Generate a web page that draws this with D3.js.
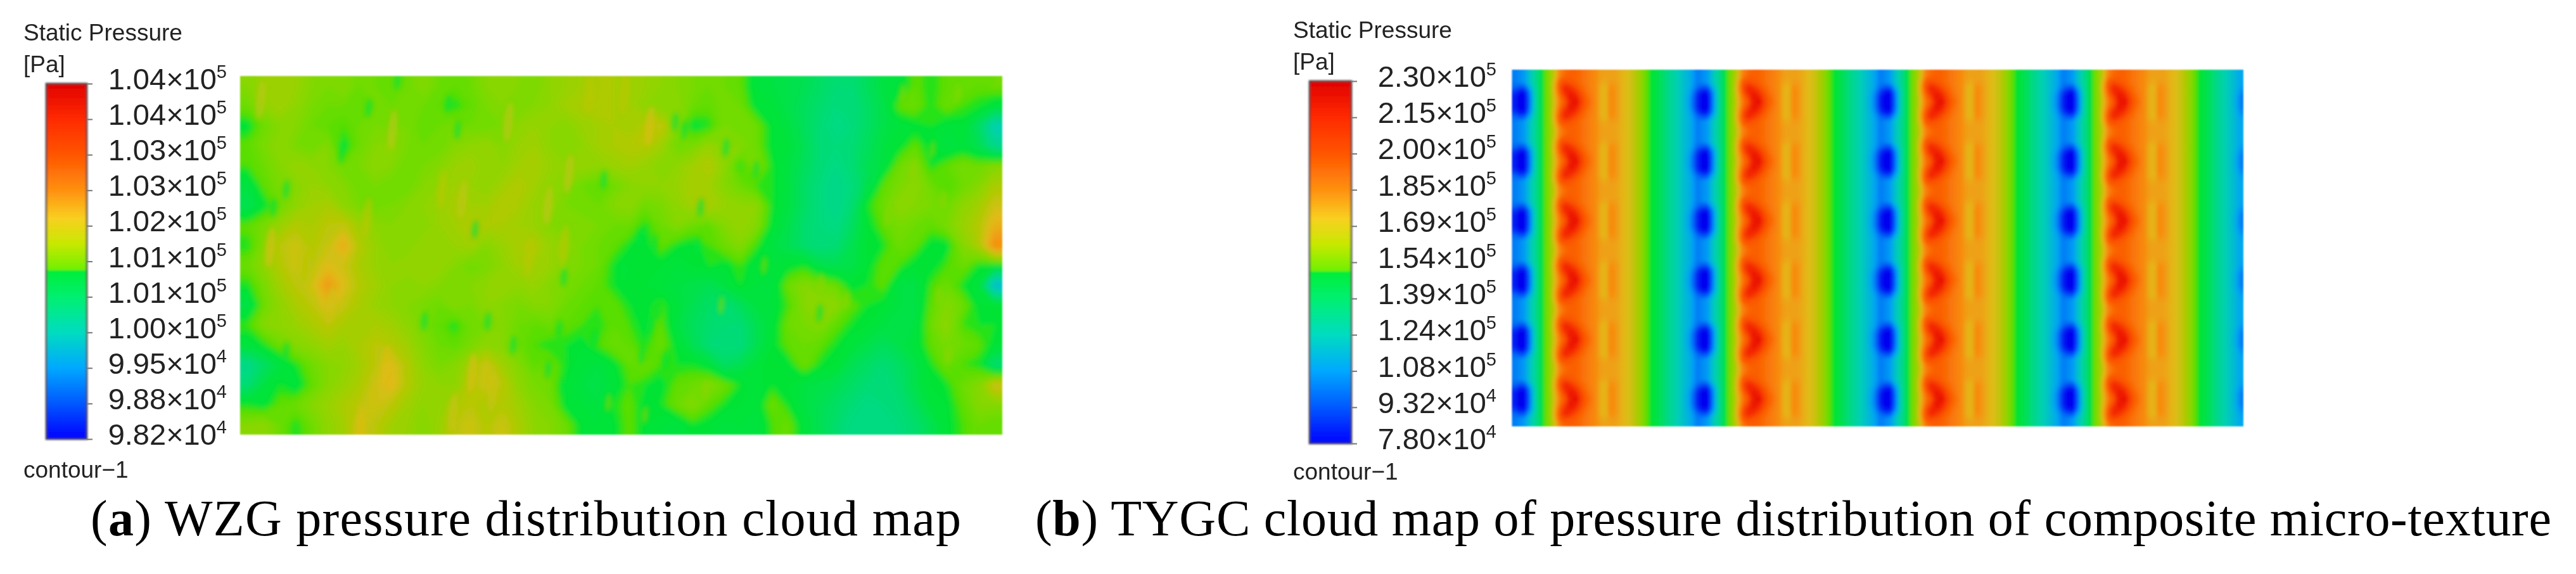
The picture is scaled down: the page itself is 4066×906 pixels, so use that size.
<!DOCTYPE html>
<html><head><meta charset="utf-8">
<script src="https://cdn.jsdelivr.net/npm/d3@7/dist/d3.min.js"></script>
<style>html,body{margin:0;padding:0;background:#fff;overflow:hidden}</style>
</head><body><svg id="c" width="4066" height="906"></svg>
<script>
// legend tick labels
const mantissaA=["1.04","1.04","1.03","1.03","1.02","1.01","1.01","1.00","9.95","9.88","9.82"];
const exponentA=["5","5","5","5","5","5","5","5","4","4","4"];
const mantissaB=["2.30","2.15","2.00","1.85","1.69","1.54","1.39","1.24","1.08","9.32","7.80"];
const exponentB=["5","5","5","5","5","5","5","5","5","4","4"];
const legendTitle="Static Pressure", legendUnit="[Pa]", legendFoot="contour\u22121";
const captionA=["(a)"," WZG pressure distribution cloud map"];
const captionB=["(b)"," TYGC cloud map of pressure distribution of composite micro-texture"];
// colour legend: level (percent of legend range) -> colour
const levelStops=[0,10,20,30,38,44,47.4,47.6,52,56,62,70,80,90,100];
const levelColors=["#0000f0","#0050f8","#00a4f4","#00d0b4","#00dc74","#00e240","#00e430","#4ee000","#84d800","#a8cc00","#e0bc18","#f88c10","#fa5600","#f42800","#e00000"];
const legendStops=[0,10,20,30,40,47.4,47.6,55,62,70,80,90,100];
const legendColors=["#0000ff","#0058ff","#00a8ff","#00dcc0","#00f070","#00ee38","#70f000","#c8e800","#f8d020","#ff9010","#ff5500","#ff2a00","#e00000"];
// panel (a): pressure level, top row first
const fieldA=[
[52,54,55,54,52,51,52,50,50,49,50,52,50,49,50,52,53,52,51,53,54,55,56,56,55,54,53,52,51,50,50,49,45,44,43,42,40,38,38,41,44,45,49,47,49,50,49,50],
[50,53,55,53,51,50,50,49,50,50,51,50,49,47,49,51,52,51,52,53,55,56,57,56,55,53,52,53,50,49,51,50,46,45,43,41,39,37,37,40,43,49,50,47,50,48,47,45],
[46,50,52,52,50,49,48,50,51,50,51,49,50,51,50,50,51,53,54,53,52,54,55,56,55,57,59,52,46,47,51,50,50,46,44,41,38,36,37,40,43,45,46,47,45,46,40,30],
[49,51,53,51,50,52,46,50,52,53,51,50,50,52,53,54,52,54,55,53,52,53,55,56,57,57,55,50,51,54,52,52,50,46,45,42,38,37,38,41,44,46,49,46,44,45,42,35],
[48,50,52,54,53,52,50,51,53,52,50,51,52,54,55,53,53,55,56,54,53,54,53,54,55,54,52,53,55,57,53,47,52,47,44,41,38,36,38,42,44,50,52,47,49,51,50,52],
[44,49,51,52,54,53,52,50,51,50,50,52,53,55,54,53,55,57,55,53,52,50,49,50,52,53,53,54,56,55,52,50,48,47,44,40,37,35,37,41,49,51,53,50,48,50,52,56],
[42,46,50,53,55,56,53,51,50,51,52,53,54,56,55,55,57,56,54,53,51,50,50,52,53,50,51,53,55,56,54,53,53,47,44,40,37,35,38,47,50,53,52,51,50,53,55,60],
[49,51,54,57,56,58,59,55,53,52,53,52,54,55,57,56,56,55,54,52,51,52,51,50,50,47,50,52,50,49,52,54,52,46,43,39,37,36,40,46,49,51,50,49,51,54,57,64],
[47,52,58,60,57,59,65,57,54,52,52,54,53,54,55,52,54,56,57,54,53,51,50,49,47,46,49,47,46,48,50,52,48,44,42,39,37,38,42,46,47,50,49,46,46,52,56,70],
[50,53,57,60,58,62,60,56,54,53,54,53,54,52,50,51,53,55,55,54,52,51,50,47,46,47,46,45,46,47,46,48,45,45,46,47,43,42,43,46,49,48,46,46,48,50,47,46],
[47,51,55,58,60,68,62,57,55,53,52,53,52,51,52,53,54,53,54,52,51,50,49,47,46,46,45,44,43,42,44,47,45,44,50,52,51,50,46,47,49,44,43,48,50,47,45,25],
[43,50,53,56,58,62,59,56,54,53,52,51,50,52,51,53,52,51,52,52,50,49,48,49,47,46,48,45,42,40,38,41,44,45,48,52,53,53,49,47,46,44,43,49,52,50,46,46],
[48,52,53,54,56,58,56,55,56,55,53,51,49,47,50,51,52,50,49,50,49,48,47,49,48,46,49,44,41,39,38,38,42,45,50,51,52,49,47,46,44,43,44,50,53,48,47,47],
[45,47,50,52,53,55,54,56,58,57,55,52,50,49,51,53,52,50,48,47,47,46,48,50,49,47,50,46,42,38,37,37,42,46,49,50,49,47,45,43,41,43,45,49,51,50,49,46],
[35,40,44,47,50,52,53,55,58,62,57,53,51,52,55,60,55,52,49,50,47,45,44,46,49,50,48,47,47,45,40,42,45,47,46,50,47,46,42,40,38,40,43,47,50,48,47,38],
[38,44,47,45,49,52,54,56,60,63,57,54,53,53,57,60,58,53,51,50,46,44,43,45,48,47,46,49,50,52,50,47,45,47,46,44,43,42,40,38,37,39,43,46,47,50,52,60],
[47,46,49,50,52,54,56,58,60,58,55,53,53,56,58,56,57,55,52,51,46,45,44,47,49,46,47,50,52,49,47,46,45,50,47,44,42,40,38,36,37,38,41,45,46,49,52,52],
[52,53,50,47,50,53,55,60,58,55,54,52,54,58,60,57,60,56,53,52,50,46,45,46,49,46,45,44,47,46,44,45,44,48,50,45,42,39,36,36,36,37,39,42,46,48,50,49]];
// panel (a): narrow streaks and specks seen on top of the coarse field (grid column, grid row, level)
const streakCol=[13.1,27.4,28,30.6,6.4,22.9,29,14.8,25.2,26.1,28.8,20.4,24.2,26.3,25.8,11.6,15.6,20.1,17.2,22.3,19.4,20.4,26.8,25.3,2.9,2.9,2.1,8.1,9.9,13.7,32.5,36.5,39.5,
 1.3,9.6,14,20.7,19.4,16.9,22,24.2,25.8,20.4,18.2,1.9,8,4.1,9.2,8.3,7.6,13.4,15.9,14.6,12.7,5.7,
 42.4,44.3,40.8,36.6,38.2,44,44.6,29.3,23.2,25.5,41.7,45.2,43.6,33,30.3];
const streakRow=[1.4,2.3,2.7,3.6,3.9,5.2,6.6,7.7,8.1,8.4,8.5,10.1,9.8,11.8,12.5,12.3,12.3,12.7,13.5,13.2,14.7,15.6,14.2,14,13.8,5.7,6.6,1.6,0.2,2.7,4.7,11.9,5.7,
 1.2,2.7,6.2,4.9,6.5,2.3,0.9,0.9,2.5,8.5,9.1,8.6,7.1,9.5,14.5,16.4,17.5,16.9,15.9,14.9,5.7,11.5,
 4.7,6.2,7.1,10.3,11.2,11,14,15.8,16.4,17,0.8,0.9,3.7,9.5,11.5];
const streakLevel=[44,44,44,44,45,45,44,45,45,45,45,45,45,45,45,45,45,45,45,45,45,45,45,45,44,44,44,45,44,45,45,45,45,
 59,59,59,59,59,59,58,58,62,58,58,62,58,58,62,60,62,60,60,62,58,60,
 53,53,53,53,53,53,53,53,53,53,52,52,52,52,52];
// panel (b): one repeating texture cell
const bandProfile=[15,17,19,27,33,40,49,53,60,72,76,78,78,76,74,72,70,67,66,66,66,64,62,60,57,53,49,46,43,40,36,33,30,27,24,20];
const blueCols=[33,34,35,0,1,2,3,4];
const blueCore=[[27,22,15,4,0,0,14,30],[27,22,15,4,0,0,14,30],[27,23,17,7,2,2,16,30],[27,24,19,13,10,11,22,32]];
const redCols=[8,9,10,11,12,13,14,15];
const redCore=[[62,74,80,93,98,86,79,75],[63,76,84,95,93,84,78,74],[65,80,90,92,88,81,76,73],[66,82,90,87,82,78,75,72],[64,80,82,80,79,76,74,72],[61,74,78,79,78,76,74,72]];
const dashCols=[17,18,19,20];
const dashCore=[[64,63,71,68],[64,63,71,68],[64,63,71,68],[64,63,70,68],[66,65,68,67]];
const cellRows=12, cellRepeatX=4, cellRepeatY=6;

const svg=d3.select("#c");
const color=d3.scaleLinear().domain(levelStops).range(levelColors);
const defs=svg.append("defs");
[["softB",2.2],["softA",4],["streak",3.5],["edge",1],["bar",1.4],["txt",0.7]].forEach(([id,s])=>{
  defs.append("filter").attr("id",id).attr("x","-5%").attr("y","-5%").attr("width","110%").attr("height","110%")
    .append("feGaussianBlur").attr("stdDeviation",s);
});
const grad=defs.append("linearGradient").attr("id","legendGrad").attr("x1",0).attr("x2",0).attr("y1",1).attr("y2",0);
legendStops.forEach((l,i)=>grad.append("stop").attr("offset",l/100).attr("stop-color",legendColors[i]));

function buildCellTile(){
  const t=[];
  for(let r=0;r<cellRows;r++){
    const row=bandProfile.slice(), d=Math.abs(r-6);
    [[blueCols,blueCore],[redCols,redCore],[dashCols,dashCore]].forEach(([cols,core])=>{
      if(core[d]) cols.forEach((c,i)=>row[c]=core[d][i]);
    });
    t.push(row);
  }
  return t;
}
let clipId=0;
function drawField(matrix,xr,yr,soft,extra){
  const m=matrix.length,n=matrix[0].length;
  // repeat the border values once so the contour outline does not cut the corners
  const padded=[matrix[0]].concat(matrix,[matrix[m-1]]).map(r=>[r[0]].concat(r,[r[n-1]]));
  const x=d3.scaleLinear().domain([0,n]).range(xr), y=d3.scaleLinear().domain([0,m]).range(yr);
  const contours=d3.contours().size([n+2,m+2]).thresholds(d3.range(0,100,1))(padded.flat());
  const path=d3.geoPath(d3.geoTransform({point(a,b){this.stream.point(x(a-1),y(b-1));}}));
  const id="clip"+(clipId++);
  defs.append("clipPath").attr("id",id).append("rect").attr("x",xr[0]).attr("y",yr[0]).attr("width",xr[1]-xr[0]).attr("height",yr[1]-yr[0]);
  const outer=svg.append("g").attr("filter","url(#edge)").append("g").attr("clip-path",`url(#${id})`);
  outer.append("g").attr("filter",`url(#${soft})`).selectAll("path").data(contours).join("path")
    .attr("d",path).attr("fill",d=>color(d.value+0.5)).attr("stroke",d=>color(d.value+0.5)).attr("stroke-width",0.4);
  if(extra) extra(outer.append("g").attr("filter","url(#streak)"),x,y);
}
function drawStreaks(g,x,y){
  g.selectAll("ellipse").data(d3.range(streakCol.length)).join("ellipse")
    .attr("cx",i=>x(streakCol[i])).attr("cy",i=>y(streakRow[i]))
    .attr("rx",i=>streakLevel[i]>=55?7:5).attr("ry",i=>streakLevel[i]>=55?32:15)
    .attr("fill",i=>color(streakLevel[i])).attr("opacity",0.6)
    .attr("transform",i=>`rotate(6 ${x(streakCol[i])} ${y(streakRow[i])})`);
}
function drawLegend(o){
  const g=svg.append("g");
  const ty=g.append("g").attr("filter","url(#txt)").attr("font-family","'Liberation Sans',Arial,sans-serif").attr("fill","#222");
  ty.append("text").attr("x",o.titleX).attr("y",o.titleY).attr("font-size",37).text(legendTitle);
  ty.append("text").attr("x",o.titleX).attr("y",o.unitY).attr("font-size",37).text(legendUnit);
  ty.append("text").attr("x",o.titleX).attr("y",o.footY).attr("font-size",37).text(legendFoot);
  const bar=g.append("g").attr("filter","url(#bar)");
  bar.append("rect").attr("x",o.x0).attr("y",o.y0).attr("width",o.x1-o.x0).attr("height",o.y1-o.y0)
    .attr("fill","url(#legendGrad)").attr("stroke","#3a3a3a").attr("stroke-width",2.5);
  const idx=d3.range(o.mant.length);
  const s=d3.scalePoint().domain(idx).range([o.y0,o.y1]);
  const ax=g.append("g").attr("transform",`translate(${o.x1},0)`).call(d3.axisRight(s).tickSize(9).tickFormat(""));
  ax.select(".domain").remove();
  ax.selectAll("line").attr("stroke","#777").attr("stroke-width",2);
  const lab=ty.selectAll("text.t").data(idx).join("text").attr("class","t")
    .attr("x",o.labelX).attr("y",i=>s(i)+9).attr("text-anchor","end").attr("font-size",47);
  lab.append("tspan").text(i=>o.mant[i]+"\u00d710");
  lab.append("tspan").attr("font-size",29).attr("dy",-18).text(i=>o.exp[i]);
}
function drawCaption(parts,x0,x1,yb){
  const t=svg.append("text").attr("x",x0).attr("y",yb).attr("font-family","'Liberation Serif','Times New Roman',serif")
    .attr("font-size",80).attr("fill","#000").attr("textLength",x1-x0).attr("lengthAdjust","spacing");
  t.append("tspan").text("(");
  t.append("tspan").attr("font-weight","bold").text(parts[0].slice(1,-1));
  t.append("tspan").text(")"+parts[1]);
}

drawField(fieldA,[379,1582],[120,686],"softA",drawStreaks);
const tile=buildCellTile(), fieldB=[];
for(let j=0;j<cellRepeatY;j++) tile.forEach(r=>{
  let row=[]; for(let k=0;k<cellRepeatX;k++) row=row.concat(r); fieldB.push(row);
});
drawField(fieldB,[2386.5,3541],[110,673],"softB");

drawLegend({x0:73,x1:137,y0:132,y1:693,mant:mantissaA,exp:exponentA,labelX:358,titleX:37,titleY:64,unitY:114,footY:754});
drawLegend({x0:2067,x1:2133,y0:128,y1:700,mant:mantissaB,exp:exponentB,labelX:2362,titleX:2041,titleY:60,unitY:110,footY:757});
drawCaption(captionA,143,1517,845);
drawCaption(captionB,1634,4027,845);
</script></body></html>
